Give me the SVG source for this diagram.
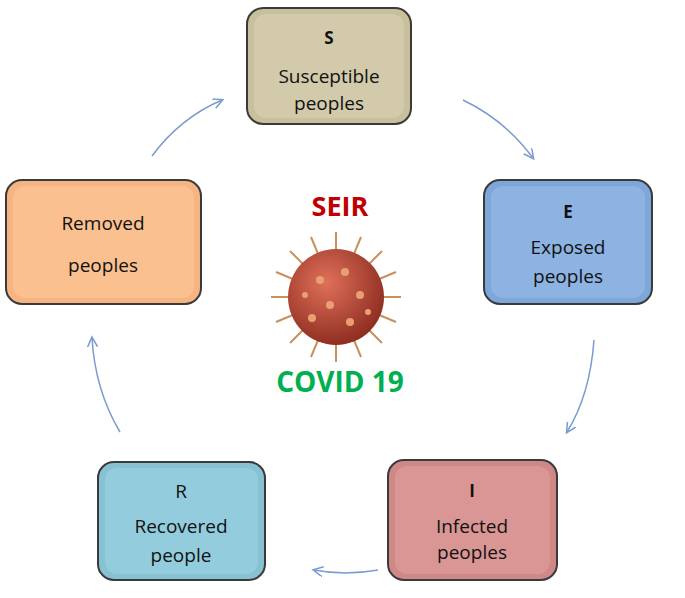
<svg xmlns="http://www.w3.org/2000/svg" width="685" height="598" viewBox="0 0 685 598">
<defs>
<style>
.box{stroke:#3a3a3a;stroke-width:2}
.t{font-family:"Open Sans","Liberation Sans",sans-serif;font-size:19px;fill:#111;text-anchor:middle}
.b{font-weight:bold;font-size:17px}
.c{fill:none;stroke:#7a9bd0;stroke-width:1.5;marker-end:url(#a)}
.sp{stroke:#c9905a;stroke-width:2}
</style>
<marker id="a" markerWidth="12" markerHeight="12" refX="9" refY="5" orient="auto" markerUnits="userSpaceOnUse"><path d="M0,0 L10,5 L0,10" fill="none" stroke="#7a9bd0" stroke-width="1.5"/></marker>
<radialGradient id="v" cx="0.4" cy="0.35" r="0.7"><stop offset="0" stop-color="#e0705a"/><stop offset="1" stop-color="#8a2a1e"/></radialGradient>
</defs>
<rect width="685" height="598" fill="#fff"/>
<g id="S"><rect class="box" x="247" y="8" width="164" height="116" rx="16" fill="#c8bf9d"/><rect x="254" y="14" width="150" height="104" rx="12" fill="#d2caab"/><text class="t b" x="329" y="44">S</text><text class="t" x="329" y="83">Susceptible</text><text class="t" x="329" y="110">peoples</text></g>
<g id="E"><rect class="box" x="484" y="180" width="168" height="124" rx="16" fill="#7fa6d9"/><rect x="491" y="186" width="154" height="112" rx="12" fill="#8db3e2"/><text class="t b" x="568" y="218">E</text><text class="t" x="568" y="254">Exposed</text><text class="t" x="568" y="283">peoples</text></g>
<g id="I"><rect class="box" x="388" y="460" width="169" height="120" rx="16" fill="#d08886"/><rect x="395" y="466" width="155" height="108" rx="12" fill="#d99694"/><text class="t b" x="472" y="497">I</text><text class="t" x="472" y="533">Infected</text><text class="t" x="472" y="559">peoples</text></g>
<g id="R"><rect class="box" x="98" y="462" width="167" height="118" rx="16" fill="#87c2d3"/><rect x="105" y="468" width="153" height="106" rx="12" fill="#93cddd"/><text class="t" x="181" y="498">R</text><text class="t" x="181" y="533">Recovered</text><text class="t" x="181" y="562">people</text></g>
<g id="Removed"><rect class="box" x="6" y="180" width="195" height="124" rx="16" fill="#f5b482"/><rect x="13" y="186" width="181" height="112" rx="12" fill="#fac090"/><text class="t" x="103" y="230">Removed</text><text class="t" x="103" y="272">peoples</text></g>
<g id="connectors">
<path class="c" d="M463,100 Q505,120 533,158"/>
<path class="c" d="M594,340 Q590,395 567,432"/>
<path class="c" d="M378,570 Q345,576 314,570"/>
<path class="c" d="M120,432 Q95,390 92,338"/>
<path class="c" d="M152,156 Q180,118 222,100"/>
</g>
<g id="center">
<text x="340" y="216" font-family="Open Sans,Liberation Sans,sans-serif" font-weight="bold" font-size="27" fill="#c00000" text-anchor="middle">SEIR</text>
<g id="virus">
<g class="sp">
<line x1="336" y1="297" x2="336" y2="232"/><line x1="336" y1="297" x2="336" y2="362"/><line x1="336" y1="297" x2="271" y2="297"/><line x1="336" y1="297" x2="401" y2="297"/>
<line x1="336" y1="297" x2="290" y2="251"/><line x1="336" y1="297" x2="382" y2="343"/><line x1="336" y1="297" x2="382" y2="251"/><line x1="336" y1="297" x2="290" y2="343"/>
<line x1="336" y1="297" x2="311" y2="237"/><line x1="336" y1="297" x2="361" y2="357"/><line x1="336" y1="297" x2="361" y2="237"/><line x1="336" y1="297" x2="311" y2="357"/>
<line x1="336" y1="297" x2="276" y2="272"/><line x1="336" y1="297" x2="396" y2="322"/><line x1="336" y1="297" x2="396" y2="272"/><line x1="336" y1="297" x2="276" y2="322"/>
</g>
<circle cx="336" cy="297" r="48" fill="url(#v)"/>
<g fill="#e8a070"><circle cx="320" cy="280" r="4"/><circle cx="345" cy="272" r="4"/><circle cx="360" cy="295" r="4"/><circle cx="330" cy="305" r="4"/><circle cx="312" cy="318" r="4"/><circle cx="350" cy="322" r="4"/><circle cx="305" cy="295" r="3"/><circle cx="368" cy="312" r="3"/></g>
</g>
<text x="340" y="392" font-family="Open Sans,Liberation Sans,sans-serif" font-weight="bold" font-size="28" fill="#00b050" text-anchor="middle">COVID 19</text>
</g>
</svg>
